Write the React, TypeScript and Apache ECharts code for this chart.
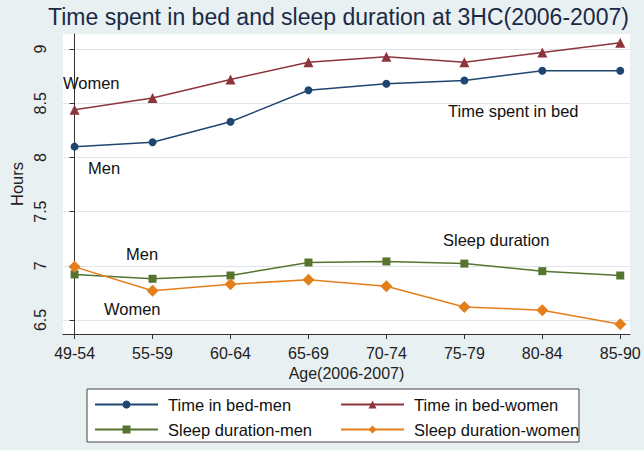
import React, { useEffect, useRef } from 'react';
import * as echarts from 'echarts';

const ageGroups = ['49-54', '55-59', '60-64', '65-69', '70-74', '75-79', '80-84', '85-90'];
const bedMen = [8.10, 8.14, 8.33, 8.62, 8.68, 8.71, 8.80, 8.80];
const bedWomen = [8.44, 8.55, 8.72, 8.88, 8.93, 8.88, 8.97, 9.06];
const sleepMen = [6.92, 6.88, 6.91, 7.03, 7.04, 7.02, 6.95, 6.91];
const sleepWomen = [6.99, 6.77, 6.83, 6.87, 6.81, 6.62, 6.59, 6.46];
const yTicks = [6.5, 7, 7.5, 8, 8.5, 9];
const seriesNames = ['Time in bed-men', 'Time in bed-women', 'Sleep duration-men', 'Sleep duration-women'];
const titleText = 'Time spent in bed and sleep duration at 3HC(2006-2007)';
const xName = 'Age(2006-2007)';
const yName = 'Hours';

const FONT = '"Liberation Sans", Arial, sans-serif';
const colors = ['#1f4670', '#8e343b', '#55752f', '#e37e1a'];

export default function App() {
  const ref = useRef<HTMLDivElement>(null);
  useEffect(() => {
    if (!ref.current) return;
    const chart = echarts.init(ref.current, undefined, { renderer: 'svg' });
    const mk = (name: string, vals: number[], color: string, symbol: string, size: number) => ({
      name,
      type: 'line',
      data: vals.map((v, i) => [i, v]),
      symbol,
      symbolSize: size,
      lineStyle: { width: 1.5, color },
      itemStyle: { color },
      z: 3,
    });
    const annot = (text: string, x: number, y: number) => ({
      type: 'text',
      x,
      y,
      z: 10,
      style: { text, fill: '#111', font: `16.5px ${FONT}`, textVerticalAlign: 'middle' },
    });
    const legendCommon = {
      orient: 'vertical',
      top: 396,
      height: 50,
      padding: 0,
      itemWidth: 63,
      itemHeight: 10,
      itemGap: 8,
      selectedMode: false,
      z: 5,
      textStyle: { fontSize: 16.5, lineHeight: 16, color: '#111', fontFamily: FONT, padding: [0, 0, 0, 5] },
    };
    chart.setOption({
      animation: false,
      backgroundColor: '#e8f0f2',
      textStyle: { fontFamily: FONT },
      title: {
        text: titleText,
        left: 48,
        top: 5,
        padding: 0,
        textStyle: { fontSize: 23, fontWeight: 'normal', color: '#1b2a45', fontFamily: FONT },
      },
      grid: {
        left: 49,
        right: 14,
        top: 34,
        bottom: 116,
        show: true,
        backgroundColor: '#ffffff',
        borderWidth: 0,
      },
      xAxis: {
        type: 'value',
        min: -0.15,
        max: 7.125,
        name: xName,
        nameLocation: 'middle',
        nameGap: 31,
        nameTextStyle: { fontSize: 16, color: '#222', fontFamily: FONT },
        axisLine: { show: true, lineStyle: { color: '#333', width: 1 } },
        axisTick: { show: true, length: 5, lineStyle: { color: '#333' }, customValues: ageGroups.map((_, i) => i) },
        axisLabel: {
          fontSize: 16,
          color: '#222',
          margin: 11,
          customValues: ageGroups.map((_, i) => i),
          formatter: (v: number) => ageGroups[Math.round(v)] ?? '',
        },
        splitLine: { show: false },
      },
      yAxis: {
        type: 'value',
        min: 6.37,
        max: 9.14,
        name: yName,
        nameLocation: 'middle',
        nameRotate: 90,
        nameGap: 24,
        nameTextStyle: { fontSize: 16.5, color: '#222', fontFamily: FONT },
        axisLine: { show: true, lineStyle: { color: '#333', width: 1 } },
        axisTick: { show: true, length: 5, lineStyle: { color: '#333' }, customValues: yTicks },
        axisLabel: {
          fontSize: 16,
          color: '#222',
          rotate: 90,
          margin: 14,
          customValues: yTicks,
          formatter: (v: number) => String(v),
        },
        splitLine: { show: true, lineStyle: { color: '#dde7eb', width: 1 } },
      },
      legend: [
        { ...legendCommon, left: 94, data: [seriesNames[0], seriesNames[2]] },
        { ...legendCommon, left: 340, data: [seriesNames[1], seriesNames[3]] },
      ],
      graphic: [
        {
          type: 'rect',
          z: 0,
          shape: { x: 87, y: 389, width: 492, height: 53 },
          style: { fill: '#ffffff', stroke: '#444', lineWidth: 1 },
        },
        annot('Women', 63, 83),
        annot('Men', 88, 168),
        annot('Time spent in bed', 448, 111),
        annot('Men', 126, 254),
        annot('Sleep duration', 443, 240),
        annot('Women', 104, 309),
      ],
      series: [
        mk(seriesNames[0], bedMen, colors[0], 'circle', 8),
        mk(seriesNames[1], bedWomen, colors[1], 'triangle', 10),
        mk(seriesNames[2], sleepMen, colors[2], 'rect', 8),
        mk(seriesNames[3], sleepWomen, colors[3], 'diamond', 12),
      ],
    });
    return () => chart.dispose();
  }, []);
  return <div ref={ref} style={{ position: 'fixed', left: 0, top: 0, width: 644, height: 450 }} />;
}
